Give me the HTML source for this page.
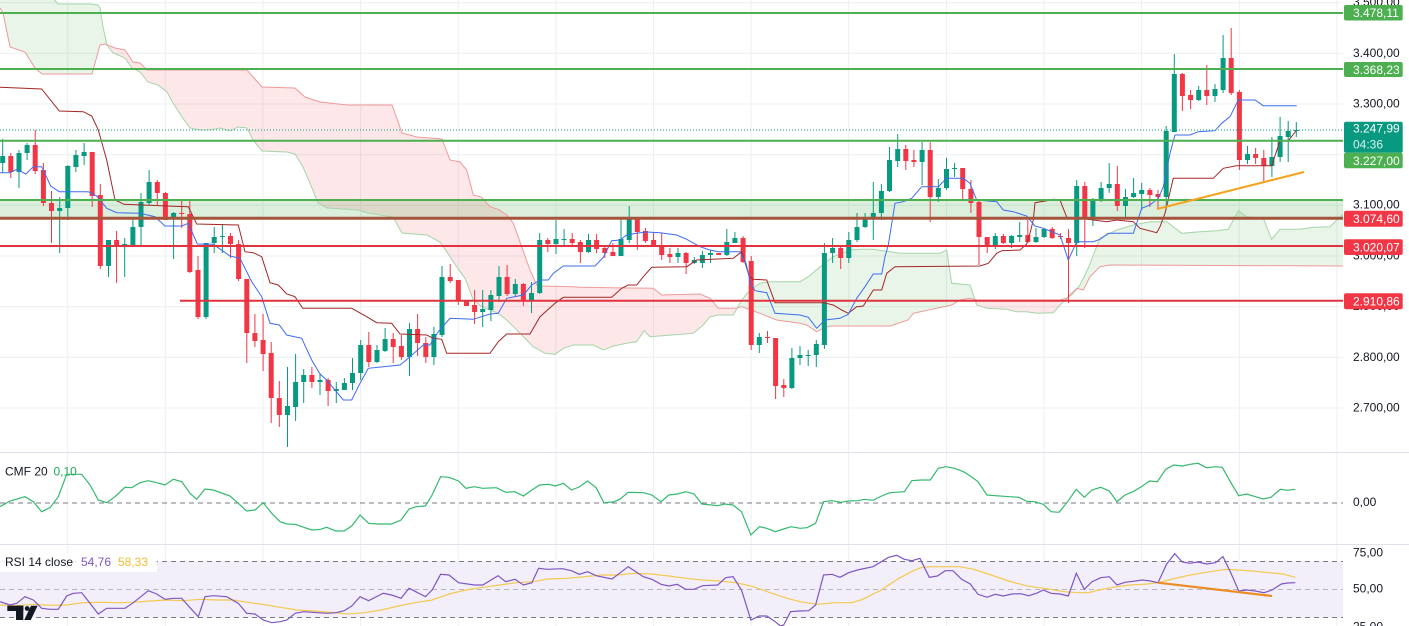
<!DOCTYPE html>
<html><head><meta charset="utf-8">
<style>
html,body{margin:0;padding:0;background:#fff;width:1409px;height:626px;overflow:hidden;}
svg{display:block;}
text{font-family:"Liberation Sans",Arial,sans-serif;}
</style></head><body>
<svg width="1409" height="626" viewBox="0 0 1409 626" xmlns="http://www.w3.org/2000/svg">
<defs>
<clipPath id="mainc"><rect x="0" y="0" width="1343" height="452"/></clipPath>
<clipPath id="abv"><polygon points="0,-50 1343,-50 1343,266 1110,265 1100,266.7 1090,276.7 1083.3,290 1076.7,288.3 1066.7,298.3 1060,300 976.7,300 970,298.3 960,300 951.7,305 913.3,313.3 908,320 890,326 830,326 823.3,328.3 816.7,331.7 806.7,325 800,323.3 776.7,320 760,313.3 741.7,306.7 736.7,308.3 718.3,308.3 710,298.3 700,294 661.7,295 653.3,288.3 580,287.3 573.3,286.7 540,286 536.7,285 530,270 521.7,246.7 513.3,223.3 506.7,215 498.3,209.3 490,206.7 481.7,197.3 473.3,195 466.7,170 460,162 450,160 442,139 417,137 402,133 392,105 347,105 320,102 305,97 295,88 262,87 247,70 147,70 140,63 133,62 125,50 115,48 105,44 100,45 92,74 42,74 35,68 25,52 10,47 3,13 0,8"/></clipPath>
<clipPath id="blw"><polygon points="0,600 1343,600 1343,266 1110,265 1100,266.7 1090,276.7 1083.3,290 1076.7,288.3 1066.7,298.3 1060,300 976.7,300 970,298.3 960,300 951.7,305 913.3,313.3 908,320 890,326 830,326 823.3,328.3 816.7,331.7 806.7,325 800,323.3 776.7,320 760,313.3 741.7,306.7 736.7,308.3 718.3,308.3 710,298.3 700,294 661.7,295 653.3,288.3 580,287.3 573.3,286.7 540,286 536.7,285 530,270 521.7,246.7 513.3,223.3 506.7,215 498.3,209.3 490,206.7 481.7,197.3 473.3,195 466.7,170 460,162 450,160 442,139 417,137 402,133 392,105 347,105 320,102 305,97 295,88 262,87 247,70 147,70 140,63 133,62 125,50 115,48 105,44 100,45 92,74 42,74 35,68 25,52 10,47 3,13 0,8"/></clipPath>
</defs>
<rect width="1409" height="626" fill="#fff"/>

<!-- vertical grid -->
<g stroke="#eceff3" stroke-width="1">
<path d="M67.7,0V626M165.3,0V626M262.9,0V626M360.6,0V626M458.2,0V626M555.9,0V626M653.5,0V626M751.1,0V626M848.7,0V626M946.4,0V626M1044,0V626M1141.6,0V626M1239.3,0V626M1336.9,0V626"/>
<path d="M0,2.7H1343M0,53.3H1343M0,104H1343M0,154.7H1343M0,205.3H1343M0,256H1343M0,306.7H1343M0,357.3H1343M0,408H1343"/>
</g>

<g clip-path="url(#mainc)">
<!-- support zone band -->
<rect x="0" y="200" width="1343" height="18.3" fill="rgba(76,175,80,0.2)"/>

<!-- cloud fills -->
<g clip-path="url(#abv)">
<polygon fill="rgba(76,175,80,0.13)" points="0,-10 18,-5 53,-2 58,4 90,4 98,5 100,8 103,27 107,45 113,53 125,58 132,68 140,72 148,82 158,85 167,92 173,103 182,117 190,128 200,130 210,130 220,128 230,131 238,127 247,128 253,140 262,151 287,152 295,154 303,167 310,183 318,203 327,208 358,210 368,213 393,217 402,233 427,235 440,242 446.7,251.7 456.7,266.7 465,278.3 473.3,300 481.7,306.7 498.3,313.3 506.7,320 520,333.3 533.3,346.7 545,353.3 555,354.3 563.3,348.3 573.3,345 593.3,345 603.3,350 613.3,346 626.7,343.3 636.7,341.7 644,330.7 650,336.7 693.3,333.3 703.3,325 710,316.7 718.3,315 733.3,315 741.7,300 750,290 760,283.3 770,281.7 800,281.7 808.3,276.7 818.3,268.3 833.3,256.7 841.7,253.3 850,250 860,249.3 873.3,249.3 890,251.7 900,253.3 940,253.3 946.7,250 951.7,283.3 970,285 976.7,305 986.7,308.3 1006.7,309.3 1016.7,311.7 1026.7,311.7 1036.7,313.3 1053.3,312.7 1061.7,303.3 1073.3,293.3 1080,285 1088.3,268 1093.3,255 1100,238.3 1116.7,230 1133.3,225 1150,221.7 1166.7,221.7 1181.7,233.3 1200,231.7 1216.7,230.7 1228.3,229.3 1238.3,210.7 1246.7,216.7 1263.3,218.3 1271.7,239.3 1280,229.3 1300,229.3 1313.3,227.3 1330,226.7 1343,214 1343,266 1110,265 1100,266.7 1090,276.7 1083.3,290 1076.7,288.3 1066.7,298.3 1060,300 976.7,300 970,298.3 960,300 951.7,305 913.3,313.3 908,320 890,326 830,326 823.3,328.3 816.7,331.7 806.7,325 800,323.3 776.7,320 760,313.3 741.7,306.7 736.7,308.3 718.3,308.3 710,298.3 700,294 661.7,295 653.3,288.3 580,287.3 573.3,286.7 540,286 536.7,285 530,270 521.7,246.7 513.3,223.3 506.7,215 498.3,209.3 490,206.7 481.7,197.3 473.3,195 466.7,170 460,162 450,160 442,139 417,137 402,133 392,105 347,105 320,102 305,97 295,88 262,87 247,70 147,70 140,63 133,62 125,50 115,48 105,44 100,45 92,74 42,74 35,68 25,52 10,47 3,13 0,8"/>
</g>
<g clip-path="url(#blw)">
<polygon fill="rgba(242,54,69,0.12)" points="0,-10 18,-5 53,-2 58,4 90,4 98,5 100,8 103,27 107,45 113,53 125,58 132,68 140,72 148,82 158,85 167,92 173,103 182,117 190,128 200,130 210,130 220,128 230,131 238,127 247,128 253,140 262,151 287,152 295,154 303,167 310,183 318,203 327,208 358,210 368,213 393,217 402,233 427,235 440,242 446.7,251.7 456.7,266.7 465,278.3 473.3,300 481.7,306.7 498.3,313.3 506.7,320 520,333.3 533.3,346.7 545,353.3 555,354.3 563.3,348.3 573.3,345 593.3,345 603.3,350 613.3,346 626.7,343.3 636.7,341.7 644,330.7 650,336.7 693.3,333.3 703.3,325 710,316.7 718.3,315 733.3,315 741.7,300 750,290 760,283.3 770,281.7 800,281.7 808.3,276.7 818.3,268.3 833.3,256.7 841.7,253.3 850,250 860,249.3 873.3,249.3 890,251.7 900,253.3 940,253.3 946.7,250 951.7,283.3 970,285 976.7,305 986.7,308.3 1006.7,309.3 1016.7,311.7 1026.7,311.7 1036.7,313.3 1053.3,312.7 1061.7,303.3 1073.3,293.3 1080,285 1088.3,268 1093.3,255 1100,238.3 1116.7,230 1133.3,225 1150,221.7 1166.7,221.7 1181.7,233.3 1200,231.7 1216.7,230.7 1228.3,229.3 1238.3,210.7 1246.7,216.7 1263.3,218.3 1271.7,239.3 1280,229.3 1300,229.3 1313.3,227.3 1330,226.7 1343,214 1343,266 1110,265 1100,266.7 1090,276.7 1083.3,290 1076.7,288.3 1066.7,298.3 1060,300 976.7,300 970,298.3 960,300 951.7,305 913.3,313.3 908,320 890,326 830,326 823.3,328.3 816.7,331.7 806.7,325 800,323.3 776.7,320 760,313.3 741.7,306.7 736.7,308.3 718.3,308.3 710,298.3 700,294 661.7,295 653.3,288.3 580,287.3 573.3,286.7 540,286 536.7,285 530,270 521.7,246.7 513.3,223.3 506.7,215 498.3,209.3 490,206.7 481.7,197.3 473.3,195 466.7,170 460,162 450,160 442,139 417,137 402,133 392,105 347,105 320,102 305,97 295,88 262,87 247,70 147,70 140,63 133,62 125,50 115,48 105,44 100,45 92,74 42,74 35,68 25,52 10,47 3,13 0,8"/>
</g>

<!-- cloud lines -->
<polyline fill="none" stroke="#a5d6a7" stroke-width="1" points="0,-10 18,-5 53,-2 58,4 90,4 98,5 100,8 103,27 107,45 113,53 125,58 132,68 140,72 148,82 158,85 167,92 173,103 182,117 190,128 200,130 210,130 220,128 230,131 238,127 247,128 253,140 262,151 287,152 295,154 303,167 310,183 318,203 327,208 358,210 368,213 393,217 402,233 427,235 440,242 446.7,251.7 456.7,266.7 465,278.3 473.3,300 481.7,306.7 498.3,313.3 506.7,320 520,333.3 533.3,346.7 545,353.3 555,354.3 563.3,348.3 573.3,345 593.3,345 603.3,350 613.3,346 626.7,343.3 636.7,341.7 644,330.7 650,336.7 693.3,333.3 703.3,325 710,316.7 718.3,315 733.3,315 741.7,300 750,290 760,283.3 770,281.7 800,281.7 808.3,276.7 818.3,268.3 833.3,256.7 841.7,253.3 850,250 860,249.3 873.3,249.3 890,251.7 900,253.3 940,253.3 946.7,250 951.7,283.3 970,285 976.7,305 986.7,308.3 1006.7,309.3 1016.7,311.7 1026.7,311.7 1036.7,313.3 1053.3,312.7 1061.7,303.3 1073.3,293.3 1080,285 1088.3,268 1093.3,255 1100,238.3 1116.7,230 1133.3,225 1150,221.7 1166.7,221.7 1181.7,233.3 1200,231.7 1216.7,230.7 1228.3,229.3 1238.3,210.7 1246.7,216.7 1263.3,218.3 1271.7,239.3 1280,229.3 1300,229.3 1313.3,227.3 1330,226.7 1343,214"/>
<polyline fill="none" stroke="#ef9a9a" stroke-width="1" points="0,8 3,13 10,47 25,52 35,68 42,74 92,74 100,45 105,44 115,48 125,50 133,62 140,63 147,70 247,70 262,87 295,88 305,97 320,102 347,105 392,105 402,133 417,137 442,139 450,160 460,162 466.7,170 473.3,195 481.7,197.3 490,206.7 498.3,209.3 506.7,215 513.3,223.3 521.7,246.7 530,270 536.7,285 540,286 573.3,286.7 580,287.3 653.3,288.3 661.7,295 700,294 710,298.3 718.3,308.3 736.7,308.3 741.7,306.7 760,313.3 776.7,320 800,323.3 806.7,325 816.7,331.7 823.3,328.3 830,326 890,326 908,320 913.3,313.3 951.7,305 960,300 970,298.3 976.7,300 1060,300 1066.7,298.3 1076.7,288.3 1083.3,290 1090,276.7 1100,266.7 1110,265 1343,266"/>

<!-- candles -->
<path fill="none" stroke="#089981" stroke-width="1" d="M2.7,139V173M19,150V188M27.1,143V160M59.7,197V253M67.8,165V220M75.9,150V172M84.1,143V165M108.5,240V277M124.7,238V277M132.9,219V246M141,193V245M149.1,170V205M173.6,212V259M206.1,243V319M214.2,227V253M222.4,224V253M287.5,367V447M295.6,354V421M303.7,369V403M320,373V395M336.3,382V403M344.4,378V390M352.5,358V390M360.7,340V380M377,345V363M385.1,328V352M409.5,323V376M433.9,327V365M442,266V337M482.7,290V327M490.9,290V321M499,266V302M515.3,279V296M531.5,282V313M539.7,233V294M556,220V254M564.1,229V246M588.5,234V253M621,218V256M629.2,206V243M678,248V263M694.3,257V264M702.4,251V268M710.5,250V263M726.8,229V256M734.9,232V243M759.3,333V353M791.9,348V389M800,346V365M808.2,350V366M816.3,340V367M824.4,243V349M832.6,238V263M848.8,232V263M857,213V242M865.1,213V228M873.3,182V240M881.4,184V220M889.5,147V192M897.7,134V167M922.1,142V185M938.3,179V202M946.5,158V190M954.6,163V177M995.3,233V249M1011.6,235V248M1019.7,222V242M1036,228V243M1044.1,228V238M1076.7,180V256M1092.9,198V226M1101.1,182V202M1109.2,163V193M1125.5,189V217M1133.6,178V198M1141.7,183V210M1166.2,126V207M1174.3,54V132M1198.7,86V101M1215,84V102M1223.1,35V93M1247.5,146V164M1271.9,137V177M1280.1,117V162M1288.2,121V162M1296.3,122V137"/>
<path fill="#089981" d="M0.2,156h5v7h-5zM16.5,153h5v19h-5zM24.6,145h5v8h-5zM57.2,208h5v3h-5zM65.3,166h5v42h-5zM73.4,155h5v12h-5zM81.6,152h5v4h-5zM106,240h5v26h-5zM122.2,244h5v1h-5zM130.4,227h5v18h-5zM138.5,202h5v25h-5zM146.6,182h5v21h-5zM171.1,213h5v6h-5zM203.6,243h5v74h-5zM211.7,237h5v6h-5zM219.9,236h5v1h-5zM285,406h5v9h-5zM293.1,382h5v25h-5zM301.2,375h5v7h-5zM317.5,380h5v2h-5zM333.8,389h5v2h-5zM341.9,383h5v7h-5zM350,373h5v10h-5zM358.2,345h5v28h-5zM374.5,350h5v12h-5zM382.6,339h5v12h-5zM407,329h5v28h-5zM431.4,334h5v23h-5zM439.5,277h5v58h-5zM480.2,309h5v3h-5zM488.4,295h5v15h-5zM496.5,277h5v19h-5zM512.8,284h5v10h-5zM529,293h5v8h-5zM537.2,240h5v53h-5zM553.5,239h5v5h-5zM561.6,239h5v1h-5zM586,240h5v12h-5zM618.5,239h5v17h-5zM626.7,219h5v21h-5zM675.5,253h5v4h-5zM691.8,260h5v3h-5zM699.9,255h5v8h-5zM708,253h5v2h-5zM724.3,242h5v13h-5zM732.4,238h5v5h-5zM756.8,337h5v8h-5zM789.4,358h5v30h-5zM797.5,355h5v3h-5zM805.7,355h5v1h-5zM813.8,344h5v11h-5zM821.9,253h5v92h-5zM830.1,248h5v5h-5zM846.3,240h5v18h-5zM854.5,227h5v13h-5zM862.6,218h5v9h-5zM870.8,213h5v6h-5zM878.9,191h5v22h-5zM887,160h5v31h-5zM895.2,149h5v12h-5zM919.6,150h5v12h-5zM935.8,188h5v9h-5zM944,169h5v19h-5zM952.1,168h5v1h-5zM992.8,236h5v10h-5zM1009.1,236h5v7h-5zM1017.2,235h5v2h-5zM1033.5,237h5v5h-5zM1041.6,229h5v8h-5zM1074.2,186h5v57h-5zM1090.4,200h5v17h-5zM1098.6,188h5v12h-5zM1106.7,184h5v4h-5zM1123,197h5v9h-5zM1131.1,193h5v4h-5zM1139.2,190h5v4h-5zM1163.7,131h5v66h-5zM1171.8,74h5v58h-5zM1196.2,90h5v10h-5zM1212.5,89h5v7h-5zM1220.6,58h5v32h-5zM1245,154h5v6h-5zM1269.4,157h5v9h-5zM1277.6,136h5v21h-5zM1285.7,131h5v6h-5zM1293.8,130h5v1h-5z"/>
<path fill="none" stroke="#f23645" stroke-width="1" d="M10.8,153V178M35.2,130V174M43.4,163V206M51.5,191V243M92.2,152V207M100.3,184V269M116.6,231V283M157.3,180V205M165.4,192V220M181.7,200V228M189.8,200V273M198,256V319M230.5,233V258M238.6,240V281M246.8,279V363M254.9,314V347M263.1,314V371M271.2,342V423M279.3,381V427M311.9,367V388M328.1,378V406M368.8,332V367M393.2,333V363M401.4,335V360M417.6,314V356M425.8,337V363M450.2,264V283M458.3,280V305M466.5,301V306M474.6,290V324M507.1,265V296M523.4,283V306M547.8,238V252M572.2,233V245M580.4,240V263M596.6,234V253M604.8,245V258M612.9,243V256M637.3,218V250M645.4,228V243M653.6,232V247M661.7,233V260M669.9,248V263M686.1,252V274M718.7,253V255M743.1,236V263M751.2,256V350M767.5,331V343M775.6,338V399M783.8,379V397M840.7,247V269M905.8,145V170M913.9,150V167M930.2,142V222M962.7,168V200M970.9,180V213M979,200V265M987.2,237V253M1003.4,234V244M1027.8,220V243M1052.2,227V239M1060.4,233V239M1068.5,229V303M1084.8,182V248M1117.3,166V211M1149.9,188V207M1158,190V208M1182.4,73V111M1190.6,90V109M1206.8,65V105M1231.2,28V95M1239.4,90V170M1255.6,148V164M1263.8,150V182"/>
<path fill="#f23645" d="M8.3,156h5v16h-5zM32.7,145h5v26h-5zM40.9,170h5v33h-5zM49,203h5v8h-5zM89.7,152h5v44h-5zM97.8,195h5v71h-5zM114.1,240h5v6h-5zM154.8,182h5v11h-5zM162.9,193h5v27h-5zM179.2,213h5v1h-5zM187.3,214h5v58h-5zM195.5,270h5v47h-5zM228,236h5v8h-5zM236.1,244h5v35h-5zM244.3,279h5v54h-5zM252.4,333h5v8h-5zM260.6,340h5v14h-5zM268.7,353h5v45h-5zM276.8,398h5v17h-5zM309.4,375h5v7h-5zM325.6,380h5v11h-5zM366.3,345h5v17h-5zM390.7,339h5v8h-5zM398.9,346h5v11h-5zM415.1,329h5v14h-5zM423.3,343h5v14h-5zM447.7,277h5v4h-5zM455.8,280h5v21h-5zM464,301h5v5h-5zM472.1,305h5v7h-5zM504.6,277h5v17h-5zM520.9,284h5v17h-5zM545.3,240h5v4h-5zM569.7,239h5v4h-5zM577.9,242h5v10h-5zM594.1,240h5v9h-5zM602.3,248h5v5h-5zM610.4,252h5v4h-5zM634.8,219h5v13h-5zM642.9,231h5v10h-5zM651.1,240h5v6h-5zM659.2,246h5v9h-5zM667.4,254h5v3h-5zM683.6,253h5v10h-5zM716.2,253h5v2h-5zM740.6,238h5v24h-5zM748.7,261h5v84h-5zM765,337h5v1h-5zM773.1,338h5v48h-5zM781.3,385h5v3h-5zM838.2,248h5v10h-5zM903.3,149h5v12h-5zM911.4,160h5v2h-5zM927.7,150h5v47h-5zM960.2,168h5v21h-5zM968.4,189h5v14h-5zM976.5,202h5v35h-5zM984.7,237h5v9h-5zM1000.9,236h5v7h-5zM1025.3,235h5v7h-5zM1049.7,229h5v9h-5zM1057.9,236h5v1h-5zM1066,238h5v5h-5zM1082.3,186h5v31h-5zM1114.8,184h5v22h-5zM1147.4,190h5v5h-5zM1155.5,194h5v3h-5zM1179.9,74h5v22h-5zM1188.1,95h5v5h-5zM1204.3,90h5v6h-5zM1228.7,58h5v35h-5zM1236.9,92h5v68h-5zM1253.1,154h5v4h-5zM1261.3,158h5v8h-5z"/>

<!-- kijun / tenkan -->
<polyline fill="none" stroke="#a52626" stroke-width="1" points="0,87.3 41.7,89 59.3,111 83.3,111.7 91.7,116 98.3,130 106.7,160 115,200 124,204.3 166.7,206 188.3,206.7 196.7,224 238.3,225 245,251.7 253.3,252.7 261.7,256.7 270,282.7 278.3,285 286.7,294 295,296.7 302.7,308.3 351.7,308.3 366.7,316.7 376.7,322.7 391.7,323.3 400,334 426.7,335 433.3,338.3 441.7,339.3 446.7,353.3 490,353.3 498.3,341.7 506.7,334 530,334 540,316.7 555,303.3 563.3,297.3 611.7,297.3 621.7,288.3 628.3,285 636.7,285 643.3,276.7 651.7,267.3 686.7,266.7 696.7,260 733.3,258.3 741.7,251.7 749.3,276.7 753.3,279.3 766.7,280 775,302.7 823.3,302.7 833.3,305 841.7,310 848.3,313.3 856.7,306.7 863.3,306 873.3,290 881.7,290 886.7,273.3 895,266.7 980,266 988.3,263.3 996.7,253.3 1001.7,250.7 1020,250 1026.7,244 1030,233.3 1033.3,220 1035,202.7 1046.7,200.7 1053.3,199.3 1060,200 1066.7,217.3 1080,218.3 1093.3,220 1106.7,221.7 1116.7,220 1133.3,221.7 1140,228.3 1156.7,232.7 1160,226.7 1165,213.3 1173.3,178.3 1213.3,178.3 1223.3,168.3 1236.7,165.7 1271.7,165.7 1280,140.7 1288.3,140.7 1296.7,130"/>
<polyline fill="none" stroke="#3d6cf0" stroke-width="1" points="0,172.7 10,172.7 16.7,169.3 26,174 33.3,166.7 41.7,166.7 50.7,186 59.3,191.7 88.3,191.7 96.7,196 106.7,208.3 116.7,212.7 140,213.3 155,216.7 165,226 181.7,226 188.3,223.3 197.3,244 213.3,244.3 230,256 240,258.3 251.7,281.7 261.7,296.7 270,323.3 279.3,325 286.7,335 301.7,338.3 311.7,360 320,374 326.7,380 343.3,400 351.7,400 360,383.3 368.3,368.3 400,365 408.3,358.3 423.3,345 430,345 438.3,331.7 450,318.3 473.3,319.3 490,314 498.3,313.3 506.7,298.3 523.3,295 531.7,285 540,280 548.3,280 553.3,273.3 563.3,266 595,266 603.3,257.3 611.7,240.7 620,240 626.7,235 636.7,233.3 646.7,232 660,232.7 676.7,235 686.7,239.3 700,246.7 710,250 718.3,251.7 740,251.7 746,263.3 750.7,283.3 755,290.7 766.7,292.7 775,313.3 800,315 808.3,317.3 816.7,328.3 825,320 840,318.3 848.3,314.3 856.7,298.3 865,286.7 873.3,274 881.7,274 885,256.7 888.3,245 895,203.3 903.3,201.7 911.7,198.3 921.7,186.7 938.3,186.7 946.7,178.3 963.3,178.3 970,183.3 976.7,200 996.7,201.7 1003.3,210 1013.3,211.7 1026.7,216 1035,226 1043.3,228.3 1060,235 1068.3,260 1076.7,241.7 1093.3,241.7 1100,239.3 1108.3,233.3 1133.3,233.3 1141.7,208.3 1150,205 1158.3,198.3 1163.3,186.7 1170,153.3 1175,135 1190,135 1198.3,131.7 1215,130.7 1221.7,123.3 1230,116.7 1238.3,100 1255,100 1263.3,105.7 1296.7,105.7"/>

<!-- level lines -->
<line x1="0" y1="130" x2="1343" y2="130" stroke="#089981" stroke-width="1" stroke-dasharray="1,2"/>
<g stroke-width="2" fill="none">
<path d="M0,13H1343M0,69H1343M0,140.7H1343M0,200H1343" stroke="#4caf50"/>
<path d="M0,246H1343M180,300.7H1343" stroke="#e0333f"/>
</g>
<line x1="0" y1="218.3" x2="1343" y2="218.3" stroke="#a4553c" stroke-width="3"/>
<line x1="1157" y1="209" x2="1304" y2="172" stroke="#f5a21e" stroke-width="2"/>
</g>

<!-- pane separators -->
<path d="M0,452.5H1409M0,544.5H1409" stroke="#e0e3eb" stroke-width="1"/>

<!-- CMF pane -->
<line x1="0" y1="503" x2="1343" y2="503" stroke="#787b86" stroke-width="1" stroke-dasharray="5,4"/>
<polyline fill="none" stroke="#34b96e" stroke-width="1.2" points="0,506.7 10,501 25,496.7 33.3,501.7 41.7,511.7 50,507.7 58.3,496.7 66.7,474.3 81.7,474.3 90,485 98.3,500 106.7,502.7 115,496.7 125,487.3 131.7,487.7 140,482.7 148.3,480.7 156.7,482.7 165,485 173.3,479.3 181.7,481.7 190,493.3 196.7,499.3 205,489 213.3,490 230,496 238.3,503.3 246.7,511 255,510 263.3,502.7 271.7,513.3 280,521.7 286.8,524 295.2,524.3 303.7,527.3 312.1,530 320.6,529.3 326.7,527.3 335.8,531 344.2,531 351.7,526 360.1,515 368.6,523.3 378,524 391.6,524 401,520 409.1,509 415.9,506.7 425.4,506 432.1,495 440.6,476.7 449,477.3 458.5,481 465.9,488.3 474.4,486.7 482.8,488.3 496.4,487.7 505.8,492.3 515,491.7 523.4,496 531.9,490 539.6,485 548.8,484.3 555.5,486 563.3,483.3 571.4,490 579.2,487 587.6,481 596.1,487.7 603.9,502.7 613,502 619.8,499.3 628.2,492.3 643.4,492.7 651.9,495 661,501.7 668.8,495 677.2,494 685.7,491.7 694.1,494 701.9,504 717.8,505.7 724.6,504 733,505 741.5,511.7 750.9,535 759.4,526.7 766.8,528.3 775.3,531.7 783.7,529 791.1,526.7 800,528.3 807,527.7 815.6,523.3 823.6,501.7 832,500.7 840.7,502.3 848.7,501 857.4,500.7 864.3,499.3 873,500.3 881.7,496 889.7,492.7 904.3,491.7 911.9,480.7 921.7,480 930.3,480 938.3,468.3 946,466.7 954.7,468.3 963.4,471.7 970.3,476 978,481.7 987,495 995.3,495.7 1019,497.3 1026.6,501.3 1034.6,501.7 1043.3,504.3 1051,511.7 1059,512.3 1067.6,501.7 1076.3,489.3 1084.3,497.3 1092,490 1100.7,487.3 1109.3,491 1117,501.7 1125,495 1133,491.7 1142.4,486 1149.3,481 1157.3,481.7 1165.7,469.3 1173.7,465 1182.3,466 1190,464.3 1198,463.3 1206.7,467.7 1215.4,466.7 1222.3,467.3 1230.3,481.7 1238.7,495.7 1246.7,494 1255.3,496.7 1263,499 1271,497.3 1280.4,489.3 1287.3,490.3 1295.3,489.3"/>
<text x="5" y="475.3" font-size="12" fill="#131722">CMF 20</text>
<text x="53.5" y="475.3" font-size="12" fill="#22ab5c">0,10</text>

<!-- RSI pane -->
<rect x="0" y="561.5" width="1343" height="56" fill="#f2eefa"/>
<path d="M0,561.5H1343M0,617.5H1343" stroke="#787b86" stroke-width="1" stroke-dasharray="5,4"/>
<path d="M0,589.5H1343" stroke="#9b9ea7" stroke-width="1" stroke-dasharray="5,4" opacity="0.7"/>
<polyline fill="none" stroke="#f4c94f" stroke-width="1.2" points="0,605 16.7,605.7 33.3,604.3 50,605.3 66.7,605 83.3,602.7 100,602.3 116.7,602.7 133.3,602.3 150,601 166.7,600 183.3,600.7 200,599.3 216.7,600 233.3,600 250,602.7 266.7,605 280,607.3 296.9,610 313.8,611 330.7,612.3 347.6,614 364.5,612.7 381.4,610 398.3,606 415.2,602.7 432.1,600 449,594 465.9,590 482.8,587.3 499.7,585 516.6,582.7 533.5,581.7 547.1,579 567.4,578.3 584.3,576.7 601.2,575 618.1,575 635,573.3 651.9,574 668.8,576 685.7,578.3 702.6,580 719.5,581 736.4,582.7 753.3,586.7 770.2,592.7 787.1,598.3 800,601.7 817.4,604.3 834.8,602.7 852.1,602.7 862.6,599.3 880,590.7 897.3,579.3 911.2,571.7 921.7,567.3 932.1,566.7 946,566.7 959.9,566.7 973.8,569.3 991.2,575 1008.5,581 1025.9,585.7 1036.4,587.3 1050.3,589.3 1064.2,591.7 1078.1,592.7 1088.5,592.7 1098.9,590 1112.8,587.3 1130.2,585 1147.6,584 1158,582.7 1168.4,580 1182.3,576.7 1199.7,573.3 1217.1,570.7 1225.8,569.3 1238,570 1251.9,571 1269.2,572.7 1283.1,574 1295.3,577.3"/>
<polyline fill="none" stroke="#7e57c2" stroke-width="1.2" points="0,601.7 10,605 16.7,603.3 25,596.7 33.3,600 41.7,608.3 50,609.3 58.3,609.3 66.7,596 73.3,593.3 81.7,592.7 90,603.3 98.3,614 106.7,608.3 115,608.3 125,608.3 133.3,602.7 148.3,590.7 156.7,594 165,599.3 173.3,598.3 181.7,598.3 190,607.7 198.3,616.7 205,596.7 213.3,595.7 226.7,596.7 238.3,603.3 246.7,613.3 255,614 263.3,620 271.7,622.7 280,621.7 286.8,620 295.2,613.3 303.7,611.7 312.1,612.3 327.3,613.3 335.8,612.7 344.2,610.7 351.7,606 360.1,596.7 368.6,600.7 383.1,593.3 391.6,595 401,598.3 409.1,588.3 425.4,596.7 432.1,590 440.6,574.3 449,575 458.5,582.7 474.4,585 482.8,585 498,575.7 505.8,581.7 515,579.3 523.4,585 531.9,582.7 538.6,568.3 547.1,569.3 562.3,568.7 571.4,570.7 579.2,574.3 587.6,571.7 596.1,575.7 612,579 628.2,566.7 643.4,576.7 651.9,579.3 661,584.3 668.8,586 677.2,584.3 685.7,589.3 694.1,589.3 702.6,585.7 717.8,585 725.6,577.7 733,576.7 741.5,590 750.9,620 759.4,616 766.8,616 775.3,621.7 780.3,626 783.7,625 790.5,611.7 798.9,611 808.7,610.7 815.6,605 823.6,575 832,574.3 840,577.3 848.7,572.7 857.4,570 873,566.7 888.6,557.3 896.6,555.3 904.3,559.3 911.9,560.7 919.9,558.3 929.3,577.3 937.3,576 945.3,570.7 952.9,570.7 961.6,579.3 970.3,584 978,594.3 987,597.3 995.3,594.3 1003.3,596 1012,594 1020.7,593.7 1028.7,595.7 1036.4,593.3 1043.3,590 1051,593.3 1060,594 1068.3,596 1076.3,573.3 1084.3,589.3 1092,581.7 1100.7,577.7 1109.3,576.7 1117,585 1125,582.3 1133,581.3 1142.4,580 1150.4,581 1158,582.7 1166.7,564 1174.7,553.7 1182.3,562 1190,563.3 1198,562 1206.7,564 1215.4,562.7 1223,556.7 1231,573.3 1238.7,591 1246.7,590 1255.3,591 1264,592.7 1272,590 1281.4,584 1287.3,583 1295.3,582.7"/>
<line x1="1158" y1="582.7" x2="1272" y2="596" stroke="#ec8c25" stroke-width="2.2"/>
<rect x="0" y="553" width="157" height="19" fill="#ffffff" opacity="0.88"/>
<text x="5" y="566" font-size="12" fill="#131722">RSI 14 close</text>
<text x="81" y="566" font-size="12" fill="#7e57c2">54,76</text>
<text x="118" y="566" font-size="12" fill="#f2c12e">58,33</text>

<!-- TV logo -->
<g fill="#131722">
<rect x="7.3" y="605.7" width="16" height="5.3"/>
<rect x="16" y="605.7" width="7.3" height="14.3"/>
<circle cx="27.2" cy="608.5" r="2.4"/>
<polygon points="31,605.7 37.6,605.7 30.8,620 24.2,620"/>
</g>

<!-- price axis -->
<g font-size="12" fill="#131722">
<text x="1353" y="6.2">3.500,00</text>
<text x="1353" y="56.8">3.400,00</text>
<text x="1353" y="107.3">3.300,00</text>
<text x="1353" y="208.5">3.100,00</text>
<text x="1353" y="259.5">3.000,00</text>
<text x="1353" y="310.2">2.900,00</text>
<text x="1353" y="360.9">2.800,00</text>
<text x="1353" y="411.5">2.700,00</text>
<text x="1353" y="506">0,00</text>
<text x="1353" y="556.6">75,00</text>
<text x="1353" y="592.6">50,00</text>
<text x="1353" y="630.3">25,00</text>
</g>
<g>
<rect x="1344" y="5" width="58.7" height="15.5" rx="2" fill="#4caf50"/>
<rect x="1344" y="62" width="58.7" height="15" rx="2" fill="#4caf50"/>
<rect x="1344" y="121.7" width="58.7" height="31" rx="2" fill="#089981"/>
<rect x="1344" y="152.7" width="58.7" height="15.6" rx="2" fill="#4caf50"/>
<rect x="1344" y="210.7" width="58.7" height="16" rx="2" fill="#f23645"/>
<rect x="1344" y="239.3" width="58.7" height="15.7" rx="2" fill="#f23645"/>
<rect x="1344" y="293.3" width="58.7" height="16" rx="2" fill="#f23645"/>
</g>
<g font-size="12" fill="#ffffff">
<text x="1353" y="17">3.478,11</text>
<text x="1353" y="73.8">3.368,23</text>
<text x="1353" y="132.6">3.247,99</text>
<text x="1353" y="148.3" fill="#d6f1eb">04:36</text>
<text x="1353" y="164.8">3.227,00</text>
<text x="1353" y="223">3.074,60</text>
<text x="1353" y="251.5">3.020,07</text>
<text x="1353" y="305.6">2.910,86</text>
</g>
</svg>
</body></html>
